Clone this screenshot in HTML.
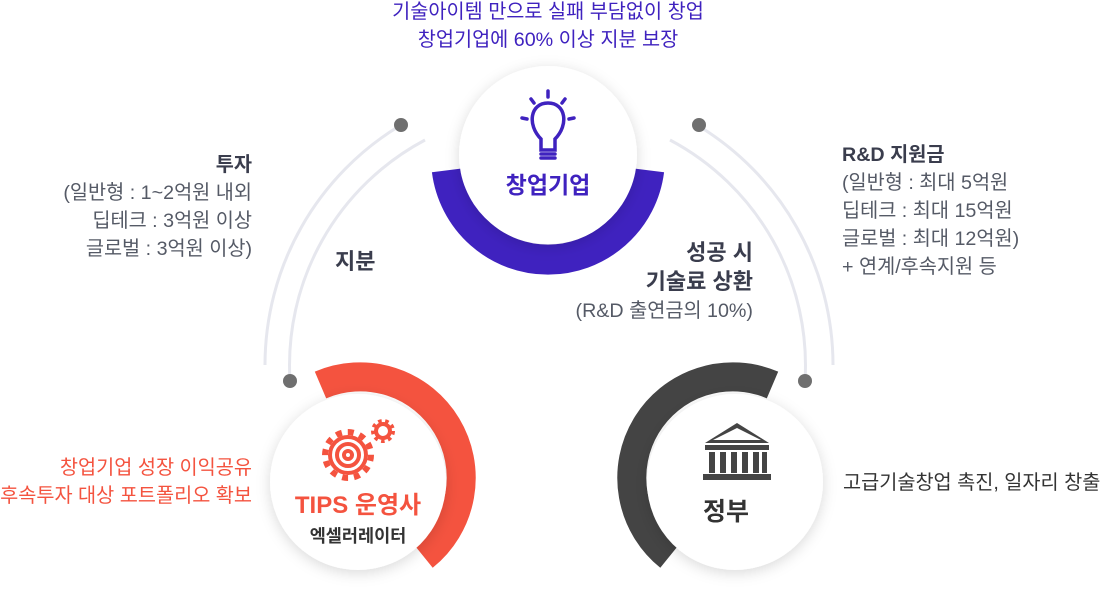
<!DOCTYPE html>
<html><head><meta charset="utf-8"><style>
body{margin:0;width:1102px;height:593px;background:#fff;overflow:hidden;position:relative;font-family:"Liberation Sans","Noto Sans CJK KR",sans-serif;}
.t{position:absolute;white-space:nowrap;font-size:19.7px;line-height:28px;color:#555a66}
.b{font-weight:bold;color:#3a3d4d}
</style></head><body>
<svg width="1102" height="593" style="position:absolute;left:0;top:0">
<defs><filter id="sh" x="-30%" y="-30%" width="160%" height="160%"><feDropShadow dx="0" dy="3" stdDeviation="7" flood-color="#000" flood-opacity="0.15"/></filter></defs>
<g fill="none" stroke="#e6e7ee" stroke-width="3">
<path d="M265 365 A280 280 0 0 1 401 125"/>
<path d="M290 381 A255 255 0 0 1 425 140"/>
<path d="M833 365 A280 280 0 0 0 697 125"/>
<path d="M805 381 A255 255 0 0 0 670 140"/>
</g>
<g fill="#6f6f6f"><circle cx="401" cy="125" r="7"/><circle cx="699" cy="125" r="7"/><circle cx="290" cy="381" r="7"/><circle cx="805" cy="381" r="7"/></g>
<path d="M446.8 170.4 A102 102 0 0 0 649.2 170.4" fill="none" stroke="#3f22bf" stroke-width="30"/>
<path d="M320.5 385 A101 101 0 0 1 423.6 556.5" fill="none" stroke="#f4533f" stroke-width="29"/>
<path d="M772.5 385 A101 101 0 0 0 669.4 556.5" fill="none" stroke="#444" stroke-width="29"/>
<circle cx="548" cy="155" r="89" fill="#fff" filter="url(#sh)"/>
<circle cx="358" cy="482" r="88" fill="#fff" filter="url(#sh)"/>
<circle cx="735" cy="482" r="88" fill="#fff" filter="url(#sh)"/>
<g stroke="#3f22bf" stroke-width="3.5" fill="none" stroke-linecap="round">
<path d="M541 139 C527 125 530 103 548 103 C566 103 569 125 555 139 L555 150 L541 150 Z"/>
<path d="M548 91 v6 M531 99 l3 4 M565 99 l-3 4 M522 118 l5 1 M574 118 l-5 1"/>
<path d="M541 154 h14 M541 158 h14"/>
</g>
<g fill="none" stroke="#f4533f" stroke-width="4">
<circle cx="348" cy="455" r="18"/><circle cx="348" cy="455" r="11"/><circle cx="348" cy="455" r="4"/>
<circle cx="348" cy="455" r="23" stroke-dasharray="6 6" stroke-width="6"/>
<circle cx="383" cy="431" r="7"/><circle cx="383" cy="431" r="10" stroke-dasharray="3.5 3.5" stroke-width="4"/>
</g>
<g fill="#444">
<path d="M705 443 L737 423 L769 443 Z"/><path d="M713 440 L737 428 L761 440Z" fill="#fff"/><rect x="705" y="445" width="64" height="5"/>
<rect x="709" y="452" width="6" height="21"/><rect x="720" y="452" width="6" height="21"/><rect x="731" y="452" width="6" height="21"/><rect x="742" y="452" width="6" height="21"/><rect x="753" y="452" width="6" height="21"/><rect x="762" y="452" width="5" height="21"/>
<rect x="703" y="474" width="68" height="6"/>
</g>
</svg>
<div class="t" style="left:348px;width:400px;text-align:center;top:-2px;color:#3f22bf">기술아이템 만으로 실패 부담없이 창업<br>창업기업에 60% 이상 지분 보장</div>
<div class="t" style="right:850px;top:151px;text-align:right"><span class="b">투자</span><br>(일반형 : 1~2억원 내외<br>딥테크 : 3억원 이상<br>글로벌 : 3억원 이상)</div>
<div class="t b" style="left:335px;top:248px;font-size:22px">지분</div>
<div class="t" style="right:349px;top:239px;text-align:right"><span class="b" style="font-size:22px">성공 시<br>기술료 상환</span><br>(R&amp;D 출연금의 10%)</div>
<div class="t" style="left:842px;top:141px"><span class="b">R&amp;D 지원금</span><br>(일반형 : 최대 5억원<br>딥테크 : 최대 15억원<br>글로벌 : 최대 12억원)<br>+ 연계/후속지원 등</div>
<div class="t" style="right:850px;top:454px;text-align:right;color:#f4533f">창업기업 성장 이익공유<br>후속투자 대상 포트폴리오 확보</div>
<div class="t" style="left:843px;top:469px;color:#333">고급기술창업 촉진, 일자리 창출</div>
<div class="t" style="left:448px;width:200px;text-align:center;top:171px;font-size:23px;font-weight:bold;color:#3f22bf">창업기업</div>
<div class="t" style="left:258px;width:200px;text-align:center;top:492px;font-size:24px;font-weight:bold;color:#f4533f">TIPS 운영사</div>
<div class="t" style="left:258px;width:200px;text-align:center;top:522px;font-size:17.5px;font-weight:bold;color:#333">엑셀러레이터</div>
<div class="t" style="left:626px;width:200px;text-align:center;top:498px;font-size:25px;font-weight:bold;color:#333">정부</div>
</body></html>
